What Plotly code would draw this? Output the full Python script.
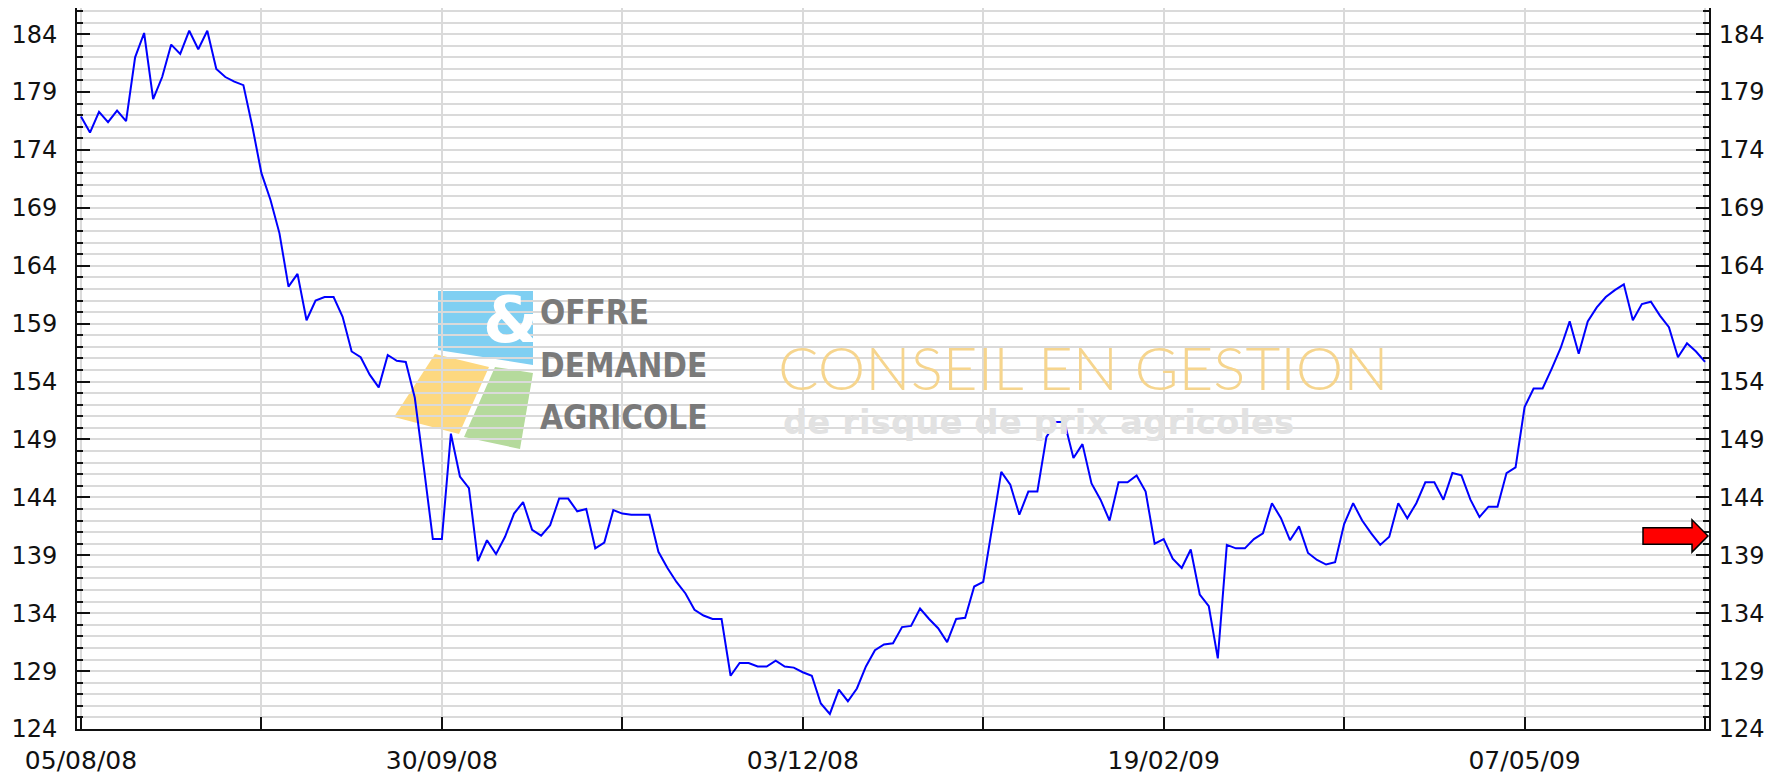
import plotly.graph_objects as go

# ---- data ----
values = [
    176.9, 175.5, 177.3, 176.4, 177.4, 176.5, 182.0, 184.1, 178.4, 180.3,
    183.1, 182.3, 184.3, 182.7, 184.3, 181.0, 180.3, 179.9, 179.6, 176.0,
    172.0, 169.7, 166.8, 162.2, 163.3, 159.3, 161.0, 161.3, 161.3, 159.6,
    156.6, 156.1, 154.6, 153.5, 156.3, 155.8, 155.7, 152.6, 146.6, 140.4,
    140.4, 149.5, 145.8, 144.8, 138.5, 140.3, 139.1, 140.6, 142.6, 143.6,
    141.2, 140.7, 141.6, 143.9, 143.9, 142.8, 143.0, 139.6, 140.1, 142.9,
    142.6, 142.5, 142.5, 142.5, 139.3, 137.9, 136.7, 135.7, 134.3, 133.8,
    133.5, 133.5, 128.6, 129.7, 129.7, 129.4, 129.4, 129.9, 129.4, 129.3,
    128.9, 128.6, 126.2, 125.3, 127.4, 126.4, 127.5, 129.4, 130.8, 131.3,
    131.4, 132.8, 132.9, 134.4, 133.5, 132.7, 131.5, 133.5, 133.6, 136.3,
    136.7, 141.5, 146.2, 145.1, 142.5, 144.5, 144.5, 149.2, 150.5, 150.5,
    147.4, 148.6, 145.2, 143.8, 142.0, 145.3, 145.3, 145.9, 144.5, 140.0,
    140.4, 138.7, 137.9, 139.5, 135.6, 134.6, 130.1, 139.9, 139.6, 139.6,
    140.4, 140.9, 143.5, 142.2, 140.3, 141.5, 139.2, 138.6, 138.2, 138.4,
    141.7, 143.5, 142.0, 140.9, 139.9, 140.6, 143.5, 142.2, 143.5, 145.3,
    145.3, 143.8, 146.1, 145.9, 143.8, 142.3, 143.2, 143.2, 146.1, 146.6,
    151.8, 153.4, 153.4, 155.1, 156.9, 159.2, 156.4, 159.2, 160.4, 161.3,
    161.9, 162.4, 159.3, 160.7, 160.9, 159.7, 158.7, 156.1, 157.3, 156.6,
    155.7,
]
x_idx = list(range(len(values)))
date_labels = ["05/08/08", "30/09/08", "03/12/08", "19/02/09", "07/05/09"]
label_step = 40
tick_step = 20
marker_value = 140.67
y_lo, y_hi = 124, 186.26
y_tick0, y_dtick, y_minor = 124, 5, 1

# ---- layout geometry (page is offset by the 8px default body margin) ----
PAGE_W, PAGE_H = 1786, 775
OFF = 8
W, H = PAGE_W - OFF, PAGE_H - OFF
ML, MR, MT, MB = 77 - OFF, 77, 8 - OFF, 46
PLOT_W = W - ML - MR
PLOT_H = H - MT - MB
x_lo = -0.44
x_hi = (len(values) - 1) + 0.44


def px(X):
    return (X - OFF - ML) / PLOT_W


def py(Y):
    return (OFF + H - MB - Y) / PLOT_H


def poly(pts):
    return "M " + " L ".join(f"{px(a):.5f},{py(b):.5f}" for a, b in pts) + " Z"


tickvals = list(range(0, len(values), tick_step))
ticktext = []
for v in tickvals:
    if v % label_step == 0 and v // label_step < len(date_labels):
        ticktext.append(date_labels[v // label_step])
    else:
        ticktext.append("")

GRID = "#dadada"
XFONT = dict(family="DejaVu Sans", size=25, color="#111111")
YFONT = dict(family="DejaVu Sans", size=24, color="#111111")

fig = go.Figure()
fig.add_trace(go.Scatter(x=x_idx, y=values, mode="lines",
                         line=dict(color="#0000ff", width=2),
                         showlegend=False, hoverinfo="skip"))
fig.add_trace(go.Scatter(x=[x_idx[0]], y=[values[0]], yaxis="y2", mode="markers",
                         marker=dict(opacity=0), showlegend=False, hoverinfo="skip"))

yaxis_common = dict(
    range=[y_lo, y_hi], tick0=y_tick0, dtick=y_dtick, ticks="inside", ticklen=13,
    tickwidth=2, tickcolor="#111111", showline=True, linecolor="#111111", linewidth=2,
    zeroline=False, tickfont=YFONT, automargin=False,
)

shapes = [
    dict(type="path", xref="paper", yref="paper", layer="below", line=dict(width=0),
         fillcolor="#7fcff2", path=poly([(438, 291), (533, 291), (533, 365), (438, 350)])),
    dict(type="path", xref="paper", yref="paper", layer="below", line=dict(width=0),
         fillcolor="#fdd880", path=poly([(435, 354), (489, 367), (459, 434), (394, 417)])),
    dict(type="path", xref="paper", yref="paper", layer="below", line=dict(width=0),
         fillcolor="#b5da9c", path=poly([(495, 367), (533, 373), (520, 449), (464, 437)])),
    # red arrow marker on the right axis
    dict(type="path", xref="x", yref="y", xsizemode="pixel", ysizemode="pixel",
         xanchor=x_hi, yanchor=marker_value, layer="above",
         fillcolor="#ff0000", line=dict(color="#000000", width=1.5),
         path="M -66,-8.3 L -17,-8.3 L -17,-16.2 L -1,0 L -17,16.2 L -17,8.3 L -66,8.3 Z"),
]

logo_font = dict(family="Liberation Sans Narrow, DejaVu Sans Condensed, Liberation Sans",
                 size=33, color="#7a7a7a", weight="bold")
annotations = [
    dict(x=px(511), y=py(320), xref="paper", yref="paper", text="&", showarrow=False,
         font=dict(family="DejaVu Sans", size=64, color="#ffffff", weight="bold"),
         xanchor="center", yanchor="middle"),
    dict(x=px(538), y=py(312), xref="paper", yref="paper", text="OFFRE", showarrow=False,
         font=logo_font, xanchor="left", yanchor="middle"),
    dict(x=px(538), y=py(365), xref="paper", yref="paper", text="DEMANDE", showarrow=False,
         font=logo_font, xanchor="left", yanchor="middle"),
    dict(x=px(538), y=py(417), xref="paper", yref="paper", text="AGRICOLE", showarrow=False,
         font=logo_font, xanchor="left", yanchor="middle"),
    dict(x=px(1083), y=py(367), xref="paper", yref="paper", text="CONSEIL EN GESTION",
         showarrow=False, xanchor="center", yanchor="middle",
         font=dict(family="Lato", size=60, color="#f6d58e", weight=300)),
    dict(x=px(1038), y=py(422), xref="paper", yref="paper", text="de risque de prix agricoles",
         showarrow=False, xanchor="center", yanchor="middle",
         font=dict(family="DejaVu Sans", size=34, color="#e2e2e2", weight="bold")),
]

fig.update_layout(
    width=W, height=H,
    margin=dict(l=ML, r=MR, t=MT, b=MB, pad=0, autoexpand=False),
    paper_bgcolor="#ffffff", plot_bgcolor="#ffffff",
    showlegend=False,
    xaxis=dict(range=[x_lo, x_hi], tickmode="array", tickvals=tickvals, ticktext=ticktext,
               ticks="inside", ticklen=12, tickwidth=2, tickcolor="#111111",
               showgrid=True, gridcolor=GRID, gridwidth=1.5,
               showline=True, linecolor="#111111", linewidth=2, zeroline=False,
               tickfont=XFONT, ticklabelstandoff=8, automargin=False),
    yaxis=dict(side="left", showgrid=True, gridcolor=GRID, gridwidth=1.5,
               ticklabelstandoff=13,
               minor=dict(tick0=y_tick0, dtick=y_minor, ticks="inside", ticklen=6,
                          tickwidth=2, tickcolor="#111111", showgrid=True,
                          gridcolor=GRID, gridwidth=1.5),
               **yaxis_common),
    yaxis2=dict(side="right", overlaying="y", showgrid=False, ticklabelstandoff=3,
                minor=dict(tick0=y_tick0, dtick=y_minor, ticks="inside", ticklen=6,
                           tickwidth=2, tickcolor="#111111", showgrid=False),
                **yaxis_common),
    shapes=shapes,
    annotations=annotations,
)

fig.write_html("out.html")
